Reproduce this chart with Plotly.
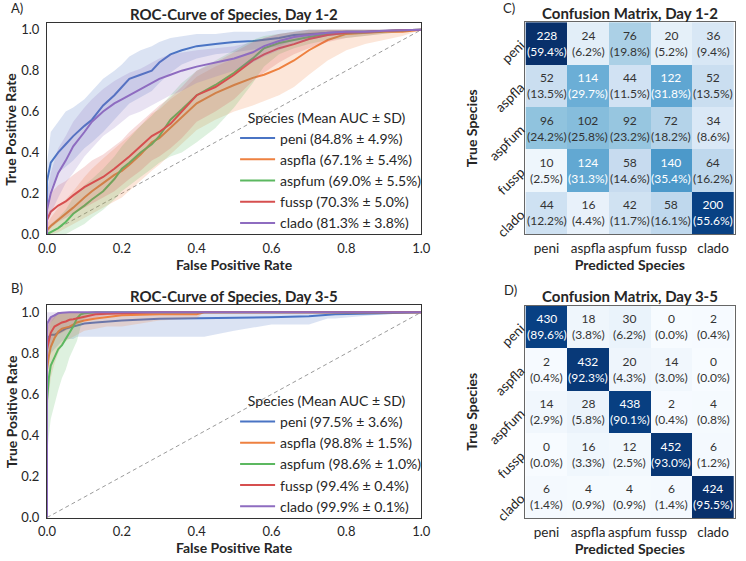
import plotly.graph_objects as go

# ---------------- data ----------------
species = ["peni", "aspfla", "aspfum", "fussp", "clado"]

# Day 1-2 ROC (mean TPR and band lower/upper, read at these FPR values)
fpr12 = [0, 0, 0.01, 0.03, 0.05, 0.07, 0.1, 0.12, 0.15, 0.18, 0.2, 0.22, 0.25, 0.28, 0.3,
         0.33, 0.36, 0.4, 0.45, 0.5, 0.55, 0.58, 0.62, 0.66, 0.7, 0.75, 0.8, 0.85, 0.9, 0.95, 1.0]
peni12 = [0, 0.26, 0.35, 0.40, 0.44, 0.48, 0.53, 0.56, 0.63, 0.68, 0.72, 0.76, 0.78, 0.80, 0.84,
          0.88, 0.90, 0.92, 0.93, 0.94, 0.945, 0.95, 0.96, 0.975, 0.98, 0.985, 0.99, 0.99, 0.995, 0.998, 1.0]
peni12_lo = [0, 0.15, 0.22, 0.30, 0.33, 0.36, 0.42, 0.45, 0.50, 0.56, 0.60, 0.64, 0.67, 0.70, 0.74,
             0.79, 0.83, 0.86, 0.88, 0.89, 0.90, 0.91, 0.92, 0.95, 0.96, 0.97, 0.98, 0.98, 0.99, 0.995, 1.0]
peni12_hi = [0, 0.35, 0.50, 0.55, 0.60, 0.62, 0.66, 0.70, 0.76, 0.80, 0.83, 0.87, 0.90, 0.92, 0.94,
             0.96, 0.97, 0.98, 0.98, 0.99, 0.99, 0.99, 1.0, 1.0, 1.0, 1.0, 1.0, 1.0, 1.0, 1.0, 1.0]
aspfla12 = [0, 0.02, 0.04, 0.07, 0.10, 0.13, 0.18, 0.21, 0.25, 0.29, 0.31, 0.34, 0.39, 0.45, 0.47,
            0.52, 0.57, 0.64, 0.69, 0.73, 0.765, 0.78, 0.81, 0.85, 0.90, 0.95, 0.98, 0.985, 0.99, 0.99, 1.0]
aspfla12_lo = [0, 0, 0, 0.01, 0.03, 0.05, 0.08, 0.10, 0.13, 0.16, 0.18, 0.21, 0.26, 0.31, 0.34,
               0.39, 0.44, 0.51, 0.56, 0.60, 0.63, 0.65, 0.68, 0.72, 0.78, 0.85, 0.90, 0.93, 0.95, 0.97, 1.0]
aspfla12_hi = [0, 0.05, 0.08, 0.13, 0.17, 0.21, 0.28, 0.32, 0.37, 0.42, 0.45, 0.48, 0.53, 0.59, 0.61,
               0.66, 0.70, 0.77, 0.82, 0.86, 0.90, 0.91, 0.94, 0.97, 0.99, 1.0, 1.0, 1.0, 1.0, 1.0, 1.0]
aspfum12 = [0, 0, 0.01, 0.03, 0.06, 0.10, 0.14, 0.17, 0.21, 0.27, 0.32, 0.35, 0.40, 0.44, 0.48,
            0.56, 0.61, 0.68, 0.73, 0.79, 0.86, 0.91, 0.935, 0.95, 0.965, 0.98, 0.985, 0.99, 0.995, 0.998, 1.0]
aspfum12_lo = [0, 0, 0, 0, 0, 0.02, 0.05, 0.08, 0.12, 0.17, 0.21, 0.24, 0.28, 0.32, 0.35,
               0.38, 0.40, 0.45, 0.52, 0.62, 0.74, 0.82, 0.88, 0.91, 0.93, 0.95, 0.96, 0.97, 0.98, 0.99, 1.0]
aspfum12_hi = [0, 0.02, 0.05, 0.08, 0.12, 0.18, 0.24, 0.27, 0.32, 0.38, 0.43, 0.47, 0.53, 0.58, 0.62,
               0.68, 0.74, 0.80, 0.85, 0.90, 0.95, 0.97, 0.98, 0.99, 1.0, 1.0, 1.0, 1.0, 1.0, 1.0, 1.0]
fussp12 = [0, 0.07, 0.11, 0.14, 0.16, 0.19, 0.23, 0.25, 0.28, 0.32, 0.35, 0.38, 0.43, 0.48, 0.50,
           0.54, 0.60, 0.68, 0.72, 0.78, 0.85, 0.88, 0.91, 0.93, 0.955, 0.975, 0.985, 0.99, 0.995, 0.998, 1.0]
fussp12_lo = [0, 0, 0.03, 0.06, 0.08, 0.10, 0.13, 0.15, 0.18, 0.21, 0.24, 0.27, 0.31, 0.36, 0.38,
              0.42, 0.47, 0.55, 0.60, 0.66, 0.75, 0.79, 0.84, 0.88, 0.91, 0.94, 0.96, 0.97, 0.98, 0.99, 1.0]
fussp12_hi = [0, 0.15, 0.20, 0.24, 0.26, 0.29, 0.33, 0.36, 0.39, 0.43, 0.46, 0.50, 0.55, 0.60, 0.63,
              0.67, 0.72, 0.80, 0.84, 0.89, 0.94, 0.96, 0.98, 0.99, 1.0, 1.0, 1.0, 1.0, 1.0, 1.0, 1.0]
clado12 = [0, 0.12, 0.20, 0.30, 0.36, 0.43, 0.50, 0.55, 0.60, 0.64, 0.66, 0.68, 0.71, 0.74, 0.76,
           0.78, 0.80, 0.82, 0.84, 0.86, 0.89, 0.92, 0.945, 0.965, 0.975, 0.985, 0.99, 0.99, 0.995, 0.998, 1.0]
clado12_lo = [0, 0.05, 0.10, 0.18, 0.25, 0.30, 0.38, 0.42, 0.48, 0.52, 0.55, 0.58, 0.60, 0.63, 0.65,
              0.68, 0.70, 0.74, 0.77, 0.80, 0.84, 0.87, 0.90, 0.93, 0.95, 0.97, 0.98, 0.98, 0.99, 0.995, 1.0]
clado12_hi = [0, 0.20, 0.30, 0.42, 0.48, 0.55, 0.62, 0.66, 0.71, 0.75, 0.77, 0.79, 0.81, 0.84, 0.86,
              0.88, 0.89, 0.90, 0.91, 0.92, 0.94, 0.96, 0.98, 0.99, 1.0, 1.0, 1.0, 1.0, 1.0, 1.0, 1.0]
auc12_mean = [84.8, 67.1, 69.0, 70.3, 81.3]
auc12_sd = [4.9, 5.4, 5.5, 5.0, 3.8]

# Day 3-5 ROC
fpr35 = [0, 0, 0.005, 0.01, 0.02, 0.03, 0.04, 0.05, 0.06, 0.07, 0.08, 0.09, 0.1, 0.13,
         0.16, 0.2, 0.3, 0.4, 0.42, 0.5, 0.6, 0.7, 0.75, 0.77, 0.9, 0.95, 1.0]
peni35 = [0, 0.86, 0.88, 0.89, 0.89, 0.90, 0.91, 0.92, 0.925, 0.93, 0.935, 0.94, 0.945, 0.95,
          0.955, 0.96, 0.968, 0.97, 0.97, 0.97, 0.975, 0.98, 0.985, 0.99, 0.995, 0.998, 1.0]
peni35_lo = [0, 0.75, 0.78, 0.80, 0.82, 0.84, 0.86, 0.87, 0.87, 0.87, 0.88, 0.88, 0.88, 0.88,
             0.88, 0.88, 0.88, 0.88, 0.88, 0.91, 0.94, 0.94, 0.97, 0.97, 0.99, 0.995, 1.0]
peni35_hi = [0, 0.95, 0.97, 0.98, 0.99, 0.99, 1.0, 1.0, 1.0, 1.0, 1.0, 1.0, 1.0, 1.0,
             1.0, 1.0, 1.0, 1.0, 1.0, 1.0, 1.0, 1.0, 1.0, 1.0, 1.0, 1.0, 1.0]
aspfla35 = [0, 0.72, 0.786, 0.83, 0.873, 0.905, 0.92, 0.925, 0.93, 0.94, 0.95, 0.955, 0.96, 0.97,
            0.975, 0.985, 0.99, 0.99, 1.0, 1.0, 1.0, 1.0, 1.0, 1.0, 1.0, 1.0, 1.0]
aspfla35_lo = [0, 0.50, 0.60, 0.68, 0.75, 0.80, 0.84, 0.86, 0.87, 0.88, 0.89, 0.90, 0.91, 0.92,
               0.93, 0.93, 0.96, 0.97, 1.0, 1.0, 1.0, 1.0, 1.0, 1.0, 1.0, 1.0, 1.0]
aspfla35_hi = [0, 0.90, 0.95, 0.97, 0.99, 1.0, 1.0, 1.0, 1.0, 1.0, 1.0, 1.0, 1.0, 1.0,
               1.0, 1.0, 1.0, 1.0, 1.0, 1.0, 1.0, 1.0, 1.0, 1.0, 1.0, 1.0, 1.0]
aspfum35 = [0, 0.57, 0.68, 0.74, 0.78, 0.82, 0.84, 0.87, 0.895, 0.93, 0.97, 0.99, 0.995, 1.0,
            1.0, 1.0, 1.0, 1.0, 1.0, 1.0, 1.0, 1.0, 1.0, 1.0, 1.0, 1.0, 1.0]
aspfum35_lo = [0, 0.30, 0.40, 0.48, 0.55, 0.62, 0.68, 0.72, 0.78, 0.82, 0.86, 0.93, 0.97, 0.99,
               1.0, 1.0, 1.0, 1.0, 1.0, 1.0, 1.0, 1.0, 1.0, 1.0, 1.0, 1.0, 1.0]
aspfum35_hi = [0, 0.80, 0.90, 0.95, 0.98, 1.0, 1.0, 1.0, 1.0, 1.0, 1.0, 1.0, 1.0, 1.0,
               1.0, 1.0, 1.0, 1.0, 1.0, 1.0, 1.0, 1.0, 1.0, 1.0, 1.0, 1.0, 1.0]
fussp35 = [0, 0.82, 0.86, 0.90, 0.93, 0.94, 0.95, 0.955, 0.963, 0.966, 0.97, 0.975, 0.98, 0.99,
           0.993, 0.995, 1.0, 1.0, 1.0, 1.0, 1.0, 1.0, 1.0, 1.0, 1.0, 1.0, 1.0]
fussp35_lo = [0, 0.70, 0.76, 0.82, 0.87, 0.89, 0.90, 0.91, 0.92, 0.93, 0.94, 0.95, 0.96, 0.975,
              0.985, 0.99, 1.0, 1.0, 1.0, 1.0, 1.0, 1.0, 1.0, 1.0, 1.0, 1.0, 1.0]
fussp35_hi = [0, 0.95, 0.97, 0.98, 0.99, 1.0, 1.0, 1.0, 1.0, 1.0, 1.0, 1.0, 1.0, 1.0,
              1.0, 1.0, 1.0, 1.0, 1.0, 1.0, 1.0, 1.0, 1.0, 1.0, 1.0, 1.0, 1.0]
clado35 = [0, 0.944, 0.96, 0.976, 0.985, 0.995, 0.998, 1.0, 1.0, 1.0, 1.0, 1.0, 1.0, 1.0,
           1.0, 1.0, 1.0, 1.0, 1.0, 1.0, 1.0, 1.0, 1.0, 1.0, 1.0, 1.0, 1.0]
clado35_lo = [0, 0.88, 0.92, 0.95, 0.97, 0.99, 0.995, 1.0, 1.0, 1.0, 1.0, 1.0, 1.0, 1.0,
              1.0, 1.0, 1.0, 1.0, 1.0, 1.0, 1.0, 1.0, 1.0, 1.0, 1.0, 1.0, 1.0]
clado35_hi = [0, 1.0, 1.0, 1.0, 1.0, 1.0, 1.0, 1.0, 1.0, 1.0, 1.0, 1.0, 1.0, 1.0,
              1.0, 1.0, 1.0, 1.0, 1.0, 1.0, 1.0, 1.0, 1.0, 1.0, 1.0, 1.0, 1.0]
auc35_mean = [97.5, 98.8, 98.6, 99.4, 99.9]
auc35_sd = [3.6, 1.5, 1.0, 0.4, 0.1]

chance = [0, 1]

# Confusion matrices (rows: true, cols: predicted)
cm12 = [[228, 24, 76, 20, 36],
        [52, 114, 44, 122, 52],
        [96, 102, 92, 72, 34],
        [10, 124, 58, 140, 64],
        [44, 16, 42, 58, 200]]
cm35 = [[430, 18, 30, 0, 2],
        [2, 432, 20, 14, 0],
        [14, 28, 438, 2, 4],
        [0, 16, 12, 452, 6],
        [6, 4, 4, 6, 424]]

# ---------------- style ----------------
FONT = "Lato"
colors = ["#4a74c4", "#ee8140", "#5cb860", "#d64f4f", "#8e6cc0"]
band_rgba = ["rgba(74,116,196,0.2)", "rgba(238,129,64,0.2)", "rgba(92,184,96,0.2)",
             "rgba(214,79,79,0.2)", "rgba(142,108,192,0.2)"]
W, H = 746, 561

def px_x(p):
    return p / W

def px_y(p):
    return 1 - p / H

fig = go.Figure()

roc_sets = [
    ("x", "y", "legend", fpr12,
     [(peni12, peni12_lo, peni12_hi), (aspfla12, aspfla12_lo, aspfla12_hi),
      (aspfum12, aspfum12_lo, aspfum12_hi), (fussp12, fussp12_lo, fussp12_hi),
      (clado12, clado12_lo, clado12_hi)], auc12_mean, auc12_sd),
    ("x2", "y2", "legend2", fpr35,
     [(peni35, peni35_lo, peni35_hi), (aspfla35, aspfla35_lo, aspfla35_hi),
      (aspfum35, aspfum35_lo, aspfum35_hi), (fussp35, fussp35_lo, fussp35_hi),
      (clado35, clado35_lo, clado35_hi)], auc35_mean, auc35_sd),
]

for xa, ya, leg, fpr, series, means, sds in roc_sets:
    fig.add_trace(go.Scatter(x=chance, y=chance, mode="lines", xaxis=xa, yaxis=ya,
                             line=dict(color="#9a9a9a", width=1, dash="4px,3px"),
                             showlegend=False, hoverinfo="skip"))
    for i, (m, lo, hi) in enumerate(series):
        fig.add_trace(go.Scatter(x=list(fpr) + list(fpr)[::-1], y=list(hi) + list(lo)[::-1],
                                 mode="lines", fill="toself", fillcolor=band_rgba[i],
                                 line=dict(width=0, color=band_rgba[i]), xaxis=xa, yaxis=ya,
                                 showlegend=False, hoverinfo="skip"))
        fig.add_trace(go.Scatter(x=fpr, y=m, mode="lines", xaxis=xa, yaxis=ya,
                                 line=dict(color=colors[i], width=2),
                                 name=f"{species[i]} ({means[i]:.1f}% ± {sds[i]:.1f}%)",
                                 legend=leg))

annotations = []
for xa, ya, cm in [("x3", "y3", cm12), ("x4", "y4", cm35)]:
    pct = [[100.0 * v / sum(row) for v in row] for row in cm]
    zmax = max(max(r) for r in pct)
    fig.add_trace(go.Heatmap(z=pct, x=species, y=species, xaxis=xa, yaxis=ya,
                             colorscale="Blues", zmin=0, zmax=zmax, showscale=False,
                             hoverinfo="skip"))
    for r, row in enumerate(cm):
        for c, v in enumerate(row):
            p = pct[r][c]
            col = "white" if p >= zmax / 2 - 1e-9 else "#333333"
            annotations.append(dict(x=species[c], y=species[r], xref=xa, yref=ya,
                                    text=f"{v}<br>({p:.1f}%)", showarrow=False,
                                    font=dict(family=FONT, size=12, color=col)))

# titles and panel labels
def ann(text, x, y, size, bold=False, xanchor="center", angle=0):
    annotations.append(dict(text=f"<b>{text}</b>" if bold else text, x=px_x(x), y=px_y(y),
                            xref="paper", yref="paper", showarrow=False, xanchor=xanchor,
                            yanchor="middle", textangle=angle,
                            font=dict(family=FONT, size=size, color="#262626")))

ann("ROC-Curve of Species, Day 1-2", 231, 13, 15, True)
ann("ROC-Curve of Species, Day 3-5", 231, 300, 15, True)
ann("Confusion Matrix, Day 1-2", 637, 12, 15, True)
ann("Confusion Matrix, Day 3-5", 637, 300, 15, True)
ann("True Positive Rate", 2, 130, 14, True, "center", -90)
ann("True Positive Rate", 2, 417, 14, True, "center", -90)
ann("A)", 0, 7, 13, False, "left")
ann("B)", 0, 292, 13, False, "left")
ann("C)", 505, 7, 13, False, "left")
ann("D)", 506, 294, 13, False, "left")

axis_common = dict(showline=True, mirror=True, linecolor="#333333", linewidth=1.2,
                   showgrid=False, zeroline=False, ticks="",
                   tickfont=dict(family=FONT, size=13, color="#262626"))
hm_axis = {**axis_common, "linecolor": "#666666", "linewidth": 1,
           "tickfont": dict(family=FONT, size=13.5, color="#262626")}
title_font = dict(family=FONT, size=14, color="#262626")

roc_dom_x = [px_x(39), px_x(423)]
hm_dom_x = [px_x(529), px_x(745)]
leg_title = "\u00a0\u00a0\u00a0Species (Mean AUC ± SD)"
leg_font = dict(family=FONT, size=14, color="#262626")

layout = dict(
    width=W, height=H, margin=dict(l=0, r=0, t=0, b=0),
    paper_bgcolor="white", plot_bgcolor="white",
    font=dict(family=FONT, color="#262626"),
    annotations=annotations,
    xaxis=dict(domain=roc_dom_x, anchor="y", range=[0, 1.0], tickvals=[0, 0.2, 0.4, 0.6, 0.8, 1.0],
               tickformat=".1f", ticklabelstandoff=2,
               title=dict(text="<b>False Positive Rate</b>", font=title_font, standoff=3),
               **axis_common),
    yaxis=dict(domain=[px_y(237), px_y(22)], anchor="x", range=[0, 1.035],
               tickvals=[0, 0.2, 0.4, 0.6, 0.8, 1.0], tickformat=".1f", ticklabelstandoff=4,
               **axis_common),
    xaxis2=dict(domain=roc_dom_x, anchor="y2", range=[0, 1.0], tickvals=[0, 0.2, 0.4, 0.6, 0.8, 1.0],
                tickformat=".1f", ticklabelstandoff=2,
                title=dict(text="<b>False Positive Rate</b>", font=title_font, standoff=3),
                **axis_common),
    yaxis2=dict(domain=[px_y(525), px_y(309)], anchor="x2", range=[0, 1.035],
                tickvals=[0, 0.2, 0.4, 0.6, 0.8, 1.0], tickformat=".1f", ticklabelstandoff=4,
                **axis_common),
    xaxis3=dict(domain=hm_dom_x, anchor="y3", ticklabelstandoff=2,
                title=dict(text="<b>Predicted Species</b>", font=title_font, standoff=2), **hm_axis),
    yaxis3=dict(domain=[px_y(237), px_y(21.5)], anchor="x3", autorange="reversed", tickangle=-45,
                title=dict(text="<b>True Species</b>", font=title_font, standoff=4), **hm_axis),
    xaxis4=dict(domain=hm_dom_x, anchor="y4", ticklabelstandoff=2,
                title=dict(text="<b>Predicted Species</b>", font=title_font, standoff=2), **hm_axis),
    yaxis4=dict(domain=[px_y(525.5), px_y(309.5)], anchor="x4", autorange="reversed", tickangle=-45,
                title=dict(text="<b>True Species</b>", font=title_font, standoff=4), **hm_axis),
    legend=dict(x=px_x(232), y=px_y(105), xanchor="left", yanchor="top",
                bgcolor="rgba(0,0,0,0)", font=leg_font,
                title=dict(text=leg_title, font=leg_font), itemwidth=35),
    legend2=dict(x=px_x(232), y=px_y(393), xanchor="left", yanchor="top",
                 bgcolor="rgba(0,0,0,0)", font=leg_font,
                 title=dict(text=leg_title, font=leg_font), itemwidth=35),
)
fig.update_layout(**layout)

fig.write_html("out.html")
